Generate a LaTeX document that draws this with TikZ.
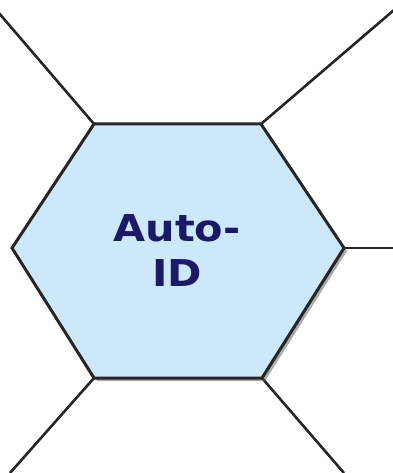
\documentclass[tikz,border=0pt]{standalone}
\usepackage{fontspec}
\setmainfont{DejaVu Sans}
\newfontfamily\labelfont[FakeStretch=1.12]{DejaVu Sans}
\usetikzlibrary{shadows}
\definecolor{hexfill}{HTML}{CCE8FA}
\definecolor{edge}{HTML}{262626}
\definecolor{labelblue}{HTML}{1C1A66}
\begin{document}
\begin{tikzpicture}[x=1pt,y=-1pt,
  spoke/.style={draw=edge,line width=2.6pt},
  hexagonbox/.style={draw=edge,line width=3pt,fill=hexfill,line join=miter,
    drop shadow={shadow xshift=3pt,shadow yshift=-3pt,fill=black!60,opacity=0.55}},
  label/.style={font=\labelfont\bfseries\fontsize{37}{45}\selectfont,text=labelblue,align=center}]
  \useasboundingbox (0,0) rectangle (392,473);
  % hexagon corners
  \coordinate (L)  at (12,248);
  \coordinate (TL) at (94,124);
  \coordinate (TR) at (261,124);
  \coordinate (R)  at (344,248);
  \coordinate (BR) at (262,378);
  \coordinate (BL) at (94,378);
  % outer ends of the spokes
  \coordinate (eTL) at (-2,12);
  \coordinate (eTR) at (394,10);
  \coordinate (eR)  at (394,248);
  \coordinate (eBL) at (10,473);
  \coordinate (eBR) at (344,473);
  \draw[spoke] (TL) -- (eTL);
  \draw[spoke] (TR) -- (eTR);
  \draw[spoke] (R) -- (eR);
  \draw[spoke] (BL) -- (eBL);
  \draw[spoke] (BR) -- (eBR);
  \path[hexagonbox] (L) -- (TL) -- (TR) -- (R) -- (BR) -- (BL) -- cycle;
  \node[label] (id) at (177,251) {Auto-\\ID};
\end{tikzpicture}
\end{document}
